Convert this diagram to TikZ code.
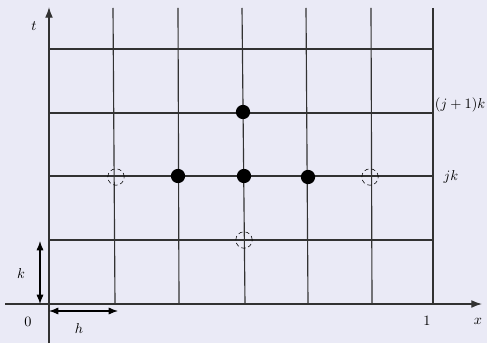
\documentclass[tikz,border=0pt]{standalone}
\usetikzlibrary{arrows.meta}
\definecolor{bg}{RGB}{234,234,246}
\definecolor{gridc}{RGB}{50,50,50}
\begin{document}
\begin{tikzpicture}[x=0.7pt,y=-0.7pt,
  gridline/.style={draw=gridc,line width=0.8pt},
  axisline/.style={draw=gridc,line width=0.9pt,-{Latex[length=7.5pt,width=5.5pt]}},
  dimline/.style={draw=black,line width=0.8pt,{Latex[length=6.5pt,width=5pt]}-{Latex[length=6.5pt,width=5pt]}},
  filled/.style={circle,fill=black,inner sep=0pt,minimum size=10pt},
  open/.style={circle,draw=black,densely dashed,line width=0.4pt,inner sep=0pt,minimum size=11.5pt},
  lbl/.style={inner sep=1pt}]
\fill[bg] (0,0) rectangle (487,343);
\useasboundingbox (0,0) rectangle (487,343);
% grid verticals
\foreach \xt/\xb [count=\i] in {113/115,178/179,242/245,306/308,371/372,433/433}{
  \coordinate (vt\i) at (\xt,8);
  \coordinate (vb\i) at (\xb,304);
  \draw[gridline] (vt\i) -- (vb\i);
}
% grid horizontals
\foreach \y [count=\i] in {49,113,176,240}{
  \coordinate (hl\i) at (49,\y);
  \coordinate (hr\i) at (433,\y);
  \draw[gridline] (hl\i) -- (hr\i);
}
% axes
\coordinate (xs) at (5,304);
\coordinate (xe) at (482,304);
\coordinate (ys) at (49,343);
\coordinate (ye) at (49,7);
\draw[axisline] (xs) -- (xe);
\draw[axisline] (ys) -- (ye);
% points
\node[filled] (p1) at (243,112) {};
\node[filled] (p2) at (178,176) {};
\node[filled] (p3) at (244,176) {};
\node[filled] (p4) at (308,177) {};
\node[open] (q1) at (116,177) {};
\node[open] (q2) at (370,177) {};
\node[open] (q3) at (244,240) {};
% dimension arrows
\coordinate (ka) at (40,241);
\coordinate (kb) at (40,304);
\draw[dimline] (ka) -- (kb);
\coordinate (ha) at (49,311);
\coordinate (hb) at (118,311);
\draw[dimline] (ha) -- (hb);
% labels
\node[lbl] (lt) at (34,26) {$t$};
\node[lbl] (lx) at (478,321) {$x$};
\node[lbl] (l0) at (28,322) {$0$};
\node[lbl] (l1) at (427,321) {$1$};
\node[lbl] (lk) at (21,274) {$k$};
\node[lbl] (lh) at (79,329) {$h$};
\node[lbl,anchor=east] (ljk1) at (487,105) {$(j+1)k$};
\node[lbl,anchor=west] (ljk) at (442,177) {$jk$};
\end{tikzpicture}
\end{document}
